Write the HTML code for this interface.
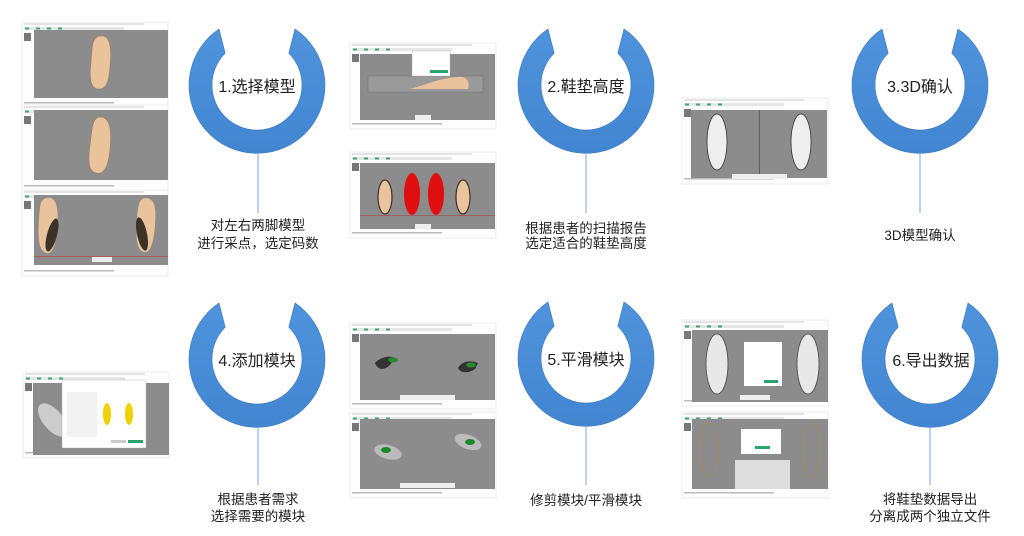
<!DOCTYPE html>
<html><head><meta charset="utf-8"><style>
html,body{margin:0;padding:0;background:#fff;width:1024px;height:536px;overflow:hidden}
svg{display:block}
.t{font-family:"Liberation Sans","Noto Sans CJK SC",sans-serif;fill:#222;text-anchor:middle}
</style></head><body>
<svg width="1024" height="536" viewBox="0 0 1024 536" xmlns="http://www.w3.org/2000/svg">
<defs>
<linearGradient id="rg" x1="0" y1="0" x2="0" y2="1"><stop offset="0" stop-color="#4f93dc"/><stop offset="1" stop-color="#4286d2"/></linearGradient>
<path id="ring" d="M-38,-56 A68,68 0 1 0 38,-56 L31.8,-31.8 A45,45 0 1 1 -31.8,-31.8 Z" fill="url(#rg)" stroke="#3a78bd" stroke-width="0.6"/>
<g id="chrome">
<rect x="0" y="0" width="146" height="86" fill="#fdfdfd" stroke="#ddd" stroke-width="0.5"/>
<rect x="2" y="1.5" width="120" height="1" fill="#ccc"/>
<rect x="2" y="5" width="100" height="3" fill="#e6e6e6"/>
<rect x="3" y="5.5" width="4" height="2" fill="#3aa676"/><rect x="14" y="5.5" width="4" height="2" fill="#3aa676"/><rect x="25" y="5.5" width="4" height="2" fill="#3aa676"/><rect x="36" y="5.5" width="4" height="2" fill="#3aa676"/>
<rect x="2" y="11" width="7" height="8" fill="#777"/>
<rect x="2" y="80" width="90" height="1.5" fill="#bbb"/>
</g>
</defs>

<g transform="translate(22,22)"><use href="#chrome"/><rect x="12" y="8" width="134" height="68" fill="#8c8c8c"/>
<path d="M78,14 C88,12 90,25 88,45 C87,60 84,68 76,67 C68,66 67,55 69,40 C70,25 70,15 78,14Z" fill="#e8c39b" stroke="#9a7a55" stroke-width="0.6"/></g>
<g transform="translate(22,105)"><use href="#chrome"/><rect x="12" y="5" width="134" height="70" fill="#8c8c8c"/>
<path d="M78,12 C88,12 90,25 88,45 C86,62 82,70 74,68 C66,66 66,55 68,40 C70,25 70,12 78,12Z" fill="#e8c39b" stroke="#9a7a55" stroke-width="0.6"/></g>
<g transform="translate(22,190)"><use href="#chrome"/><rect x="12" y="5" width="134" height="70" fill="#8c8c8c"/>
<path d="M25,8 C35,6 37,20 35,40 C34,55 30,65 24,63 C16,60 16,45 17,30 C18,15 18,9 25,8Z" fill="#e8c39b"/>
<ellipse cx="30" cy="45" rx="5" ry="17" fill="#3b3327" transform="rotate(15 30 45)"/>
<path d="M124,8 C134,9 134,20 133,35 C132,52 128,64 122,62 C114,60 114,45 115,30 C116,15 117,8 124,8Z" fill="#e8c39b"/>
<ellipse cx="120" cy="44" rx="5" ry="17" fill="#3b3327" transform="rotate(-12 120 44)"/>
<rect x="12" y="66" width="134" height="0.7" fill="#b44"/><rect x="70" y="67" width="20" height="5" fill="#eee"/></g>

<g transform="translate(350,43)"><use href="#chrome"/><rect x="10" y="11" width="135" height="66" fill="#8c8c8c"/>
<rect x="18" y="33" width="115" height="16" fill="#9a9a9a" stroke="#666" stroke-width="0.4"/>
<path d="M60,46 C75,42 90,35 108,34 C118,33 120,40 118,46 Z" fill="#e8c39b"/>
<rect x="62" y="8" width="38" height="25" fill="#fff" stroke="#aaa" stroke-width="0.4"/><rect x="80" y="27" width="18" height="3" fill="#2aa46e"/>
<rect x="65" y="72" width="16" height="5" fill="#eee"/></g>
<g transform="translate(350,152)"><use href="#chrome"/><rect x="10" y="11" width="135" height="66" fill="#8c8c8c"/>
<rect x="10" y="63" width="135" height="0.6" fill="#a44"/>
<ellipse cx="35" cy="45" rx="7" ry="17" fill="#e8c39b" stroke="#3b3327" stroke-width="1.2"/>
<ellipse cx="62" cy="42" rx="8" ry="21" fill="#e01010"/><ellipse cx="86" cy="42" rx="8" ry="21" fill="#e01010"/>
<ellipse cx="113" cy="45" rx="7" ry="17" fill="#e8c39b" stroke="#3b3327" stroke-width="1.2"/>
<rect x="65" y="72" width="16" height="5" fill="#eee"/></g>

<g transform="translate(682,98)"><use href="#chrome"/><rect x="9" y="12" width="136" height="68" fill="#8c8c8c"/>
<rect x="77" y="12" width="0.8" height="68" fill="#555"/>
<ellipse cx="35" cy="44" rx="10" ry="28" fill="#eee" stroke="#333" stroke-width="0.8"/>
<ellipse cx="119" cy="44" rx="10" ry="28" fill="#eee" stroke="#333" stroke-width="0.8"/>
<rect x="50" y="76" width="55" height="5" fill="#eee"/></g>

<g transform="translate(23,372)"><use href="#chrome"/><rect x="10" y="11" width="136" height="72" fill="#8c8c8c"/>
<ellipse cx="30" cy="48" rx="10" ry="20" fill="#ccc" transform="rotate(-40 30 48)"/>
<rect x="39" y="8" width="84" height="68" fill="#fff" stroke="#aaa" stroke-width="0.4"/>
<rect x="44" y="20" width="30" height="45" fill="#f2f2f2"/>
<ellipse cx="84" cy="42" rx="4" ry="11" fill="#f0d000"/><ellipse cx="106" cy="42" rx="4" ry="11" fill="#f0d000"/>
<rect x="105" y="68" width="15" height="3" fill="#2aa46e"/><rect x="88" y="68" width="15" height="3" fill="#ccc"/></g>

<g transform="translate(350,323)"><use href="#chrome"/><rect x="10" y="11" width="135" height="66" fill="#8c8c8c"/>
<path d="M25,40 C30,34 40,32 45,35 L40,42 C35,47 28,48 25,40Z" fill="#333"/><ellipse cx="43" cy="37" rx="5" ry="2.5" fill="#2a8a2a"/>
<path d="M108,45 C112,38 120,37 128,40 L125,46 C118,51 110,50 108,45Z" fill="#333"/><ellipse cx="121" cy="42" rx="5" ry="2.5" fill="#2a8a2a"/>
<rect x="50" y="72" width="55" height="5" fill="#eee"/></g>
<g transform="translate(350,412)"><use href="#chrome"/><rect x="10" y="7" width="135" height="70" fill="#8c8c8c"/>
<ellipse cx="38" cy="40" rx="14" ry="7" fill="#bbb" transform="rotate(15 38 40)"/><ellipse cx="36" cy="38" rx="5" ry="3" fill="#1d8a2a"/>
<ellipse cx="118" cy="30" rx="14" ry="7" fill="#bbb" transform="rotate(20 118 30)"/><ellipse cx="120" cy="30" rx="5" ry="3" fill="#1d8a2a"/>
<rect x="50" y="71" width="55" height="5" fill="#eee"/></g>

<g transform="translate(682,320)"><use href="#chrome"/><rect x="10" y="10" width="136" height="72" fill="#8c8c8c"/>
<ellipse cx="35" cy="44" rx="11" ry="30" fill="#e8e8e8" stroke="#444" stroke-width="0.8"/>
<ellipse cx="126" cy="44" rx="11" ry="30" fill="#e8e8e8" stroke="#444" stroke-width="0.8"/>
<rect x="62" y="22" width="38" height="44" fill="#fff"/><rect x="82" y="60" width="14" height="3" fill="#2aa46e"/>
<rect x="58" y="75" width="30" height="5" fill="#eee"/></g>
<g transform="translate(682,412)"><use href="#chrome"/><rect x="10" y="7" width="136" height="70" fill="#8c8c8c"/>
<ellipse cx="27" cy="38" rx="9" ry="27" fill="none" stroke="#a89050" stroke-width="0.7"/>
<ellipse cx="130" cy="38" rx="9" ry="27" fill="none" stroke="#a89050" stroke-width="0.7"/>
<rect x="53" y="48" width="55" height="29" fill="#ddd"/>
<rect x="59" y="17" width="40" height="25" fill="#fff"/><rect x="73" y="34" width="15" height="3" fill="#2aa46e"/></g>

<use href="#ring" transform="translate(257,85)"/>
<use href="#ring" transform="translate(586,85)"/>
<use href="#ring" transform="translate(920,85)"/>
<use href="#ring" transform="translate(257,359)"/>
<use href="#ring" transform="translate(586,358)"/>
<use href="#ring" transform="translate(930,359)"/>

<g stroke="#8fb3e8" stroke-width="1.2">
<line x1="258" y1="153" x2="258" y2="213"/>
<line x1="586" y1="153" x2="586" y2="213"/>
<line x1="920" y1="153" x2="920" y2="213"/>
<line x1="258" y1="427" x2="258" y2="485"/>
<line x1="586" y1="426" x2="586" y2="485"/>
<line x1="930" y1="427" x2="930" y2="485"/>
</g>

<g class="t" font-size="16">
<text x="257" y="92">1.选择模型</text>
<text x="586" y="92">2.鞋垫高度</text>
<text x="920" y="92">3.3D确认</text>
<text x="257" y="366">4.添加模块</text>
<text x="586" y="365">5.平滑模块</text>
<text x="931" y="366">6.导出数据</text>
</g>
<g class="t" font-size="13.5">
<text x="258" y="230">对左右两脚模型</text>
<text x="258" y="248">进行采点，选定码数</text>
<text x="586" y="233">根据患者的扫描报告</text>
<text x="586" y="248">选定适合的鞋垫高度</text>
<text x="920" y="240">3D模型确认</text>
<text x="258" y="504">根据患者需求</text>
<text x="258" y="521">选择需要的模块</text>
<text x="586" y="505">修剪模块/平滑模块</text>
<text x="930" y="504">将鞋垫数据导出</text>
<text x="930" y="521">分离成两个独立文件</text>
</g>
</svg>
</body></html>
